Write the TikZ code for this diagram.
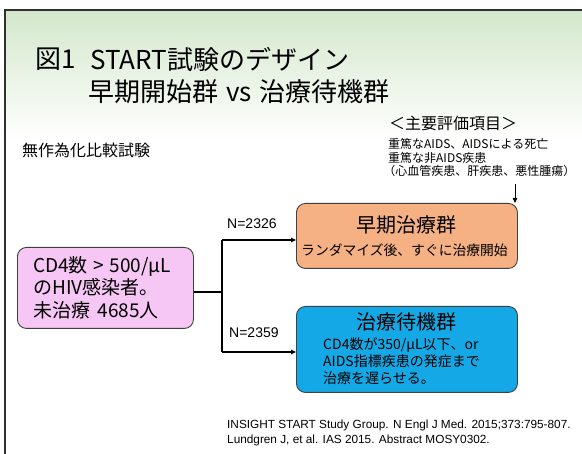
\documentclass[tikz,border=0pt]{standalone}
\usepackage{fontspec}
\setmainfont{Noto Sans CJK JP}
\newfontfamily\reffont{Liberation Sans}
\usetikzlibrary{arrows.meta}
\definecolor{pinkbox}{HTML}{F6C6F4}
\definecolor{orangebox}{HTML}{F5B084}
\definecolor{bluebox}{HTML}{14A9E6}
\definecolor{bggreen}{HTML}{D3E7CB}
\definecolor{framegray}{HTML}{303030}
\tikzset{
  box/.style={draw=black!75, line width=0.9pt, rounded corners=9pt},
  conn/.style={line width=1.1pt, draw=black},
  arr/.style={conn, -{Triangle[length=5pt,width=4.5pt]}},
  txt/.style={inner sep=0pt, anchor=west, align=left},
}
\begin{document}
\begin{tikzpicture}[x=1pt,y=-1pt]
\useasboundingbox (0,0) rectangle (582,454);
% background
\fill[white] (0,0) rectangle (582,454);
\shade[top color=bggreen, bottom color=white] (5,10) rectangle (582,140);
\draw[framegray, line width=1.4pt] (5,454) -- (5,10) -- (582,10);
% title
\node[txt, font=\fontsize{26}{30}\selectfont] (fig) at (35,59) {図1};
\node[txt, font=\fontsize{26}{30}\selectfont] (title1) at (90,59) {START試験のデザイン};
\node[txt, font=\fontsize{26}{30}\selectfont] (title2) at (88,92) {早期開始群\hspace{0.3em}vs\hspace{0.3em}治療待機群};
\node[txt, font=\fontsize{16}{19}\selectfont] (rct) at (22,150) {無作為化比較試験};
% endpoints
\node[txt, font=\fontsize{16}{19}\selectfont] (evh) at (389,123) {＜主要評価項目＞};
\node[txt, font=\fontsize{12}{13.8}\selectfont, anchor=north west] (ev) at (388,138)
  {重篤なAIDS、AIDSによる死亡\\重篤な非AIDS疾患\\\hspace*{-0.4em}（心血管疾患、肝疾患、悪性腫瘍）};
% boxes
\node[box, fill=pinkbox, minimum width=176pt, minimum height=81pt, anchor=north west] (pink) at (17,247) {};
\node[txt, font=\fontsize{19}{22.5}\selectfont, anchor=north west] (pinktxt) at (33,256)
  {CD4数\hspace{0.3em}>\hspace{0.3em}500/μL\\のHIV感染者。\\未治療\hspace*{0.4em}4685人};
\node[box, fill=orangebox, minimum width=221pt, minimum height=65pt, anchor=north west] (early) at (296,203) {};
\node[inner sep=0pt, font=\fontsize{20}{22}\selectfont] (earlyt) at (406.5,225) {早期治療群};
\node[inner sep=0pt, font=\fontsize{13.8}{16}\selectfont] (earlys) at (404.5,250) {ランダマイズ後、すぐに治療開始};
\node[box, fill=bluebox, minimum width=221pt, minimum height=86pt, anchor=north west] (defer) at (296,306) {};
\node[inner sep=0pt, font=\fontsize{20}{22}\selectfont] (defert) at (406.5,322) {治療待機群};
\node[txt, font=\fontsize{14}{17}\selectfont, anchor=north west] (defers) at (323,337)
  {CD4数が350/μL以下、or\\AIDS指標疾患の発症まで\\治療を遅らせる。};
% connectors
\coordinate (split) at (222,292);
\coordinate (top) at (222,240);
\coordinate (bot) at (222,352);
\draw[conn] (pink.east |- split) -- (split);
\draw[conn] (top) -- (bot);
\draw[arr] (top) -- (early.west |- top);
\draw[arr] (bot) -- (defer.west |- bot);
\node[inner sep=0pt, anchor=west, font=\reffont\fontsize{14}{16}\selectfont] (n1) at (227,224) {N=2326};
\node[inner sep=0pt, anchor=west, font=\reffont\fontsize{14}{16}\selectfont] (n2) at (229,333) {N=2359};
\coordinate (evb) at (515,184);
\draw[arr, line width=0.8pt] (evb) -- (early.north -| evb);
% references
\node[txt, font=\reffont\fontsize{11.8}{15}\selectfont, anchor=north west] (refs) at (227,420)
  {INSIGHT START Study Group. N Engl J Med. 2015;373:795-807.\\Lundgren J, et al. IAS 2015. Abstract MOSY0302.};
\end{tikzpicture}
\end{document}
